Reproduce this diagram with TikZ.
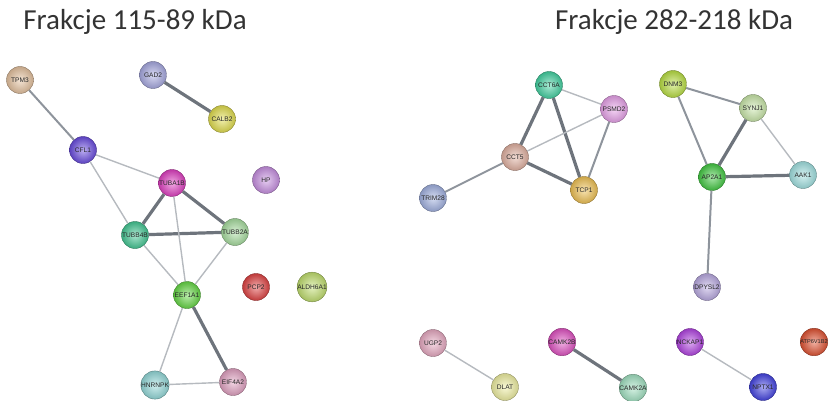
\documentclass[tikz,border=0pt]{standalone}
\usepackage{fontspec}
\setmainfont{Carlito}
\newfontfamily\labelfont{Liberation Sans}
\usepackage{tikz}
\usetikzlibrary{positioning}
\usepackage{xcolor}

\definecolor{cTPM}{HTML}{E6C3A0}
\definecolor{cGAD}{HTML}{A8AAE2}
\definecolor{cCALB}{HTML}{E2DE4E}
\definecolor{cCFL}{HTML}{6A4CE0}
\definecolor{cTUBA}{HTML}{E040C2}
\definecolor{cHP}{HTML}{C890E2}
\definecolor{cTUBBb}{HTML}{44C894}
\definecolor{cTUBBa}{HTML}{A8DEA0}
\definecolor{cEEF}{HTML}{66D846}
\definecolor{cPCP}{HTML}{E04444}
\definecolor{cALDH}{HTML}{C2E070}
\definecolor{cHNR}{HTML}{94DADA}
\definecolor{cEIF}{HTML}{E2A2C2}
\definecolor{cCCTa}{HTML}{44D2A2}
\definecolor{cPSMD}{HTML}{E8A2EA}
\definecolor{cCCTb}{HTML}{E2B2A2}
\definecolor{cTCP}{HTML}{F0C254}
\definecolor{cTRIM}{HTML}{A2B2E2}
\definecolor{cDNM}{HTML}{BAE044}
\definecolor{cSYN}{HTML}{CAE8AA}
\definecolor{cAP}{HTML}{44CA44}
\definecolor{cAAK}{HTML}{A2E2E2}
\definecolor{cDPY}{HTML}{BAAAE2}
\definecolor{cUGP}{HTML}{E8AAC2}
\definecolor{cDLAT}{HTML}{F0F0A2}
\definecolor{cCAMb}{HTML}{E052C2}
\definecolor{cCAMa}{HTML}{A2E2C2}
\definecolor{cNCK}{HTML}{B244E2}
\definecolor{cNPTX}{HTML}{4444E2}
\definecolor{cATP}{HTML}{E05232}
\definecolor{edgedark}{HTML}{6E747C}
\definecolor{edgemid}{HTML}{8E949C}
\definecolor{edgelight}{HTML}{B6BABF}

\begin{document}
\begin{tikzpicture}[x=1pt, y=-1pt,
  prot/.style={circle, minimum size=27pt, inner sep=0pt, shading=radial,
    inner color=#1!45!white, outer color=#1!85!black, draw=#1!60!black, line width=0.4pt,
    font=\labelfont\fontsize{6.6}{6.6}\selectfont, text=black!85},
  strong/.style={draw=edgedark, line width=3.2pt},
  medium/.style={draw=edgemid, line width=2pt},
  weak/.style={draw=edgelight, line width=1.4pt},
  title/.style={font=\fontsize{29}{32}\selectfont, text=black!80}]
\clip (0,0) rectangle (830,401);

\node[title] (lefttitle) at (135,22) {Frakcje 115-89 kDa};
\node[title] (righttitle) at (674,22) {Frakcje 282-218 kDa};

% fraction 115-89 kDa
\node[prot=cTPM] (tpm) at (20,80) {TPM3};
\node[prot=cGAD] (gad) at (153,75) {GAD2};
\node[prot=cCALB] (calb) at (222,119) {CALB2};
\node[prot=cCFL] (cfl) at (83,150) {CFL1};
\node[prot=cTUBA] (tuba) at (172,183) {TUBA1B};
\node[prot=cHP] (hp) at (266,180) {HP};
\node[prot=cTUBBb] (tubbb) at (135,235) {TUBB4B};
\node[prot=cTUBBa] (tubba) at (235,232) {TUBB2A};
\node[prot=cEEF] (eef) at (187,295) {EEF1A1};
\node[prot=cPCP] (pcp) at (256,287) {PCP2};
\node[prot=cALDH] (aldh) at (312,287) {ALDH6A1};
\node[prot=cHNR] (hnr) at (155,385) {HNRNPK};
\node[prot=cEIF] (eif) at (233,382) {EIF4A2};

\draw[medium] (tpm) -- (cfl);
\draw[strong] (gad) -- (calb);
\draw[weak] (cfl) -- (tuba);
\draw[weak] (cfl) -- (tubbb);
\draw[strong] (tuba) -- (tubbb);
\draw[strong] (tuba) -- (tubba);
\draw[strong] (tubbb) -- (tubba);
\draw[weak] (tuba) -- (eef);
\draw[weak] (tubbb) -- (eef);
\draw[weak] (tubba) -- (eef);
\draw[weak] (eef) -- (hnr);
\draw[strong] (eef) -- (eif);
\draw[weak] (hnr) -- (eif);

% fraction 282-218 kDa
\node[prot=cCCTa] (ccta) at (549,85) {CCT6A};
\node[prot=cPSMD] (psmd) at (614,109) {PSMD2};
\node[prot=cCCTb] (cctb) at (515,157) {CCT5};
\node[prot=cTCP] (tcp) at (584,190) {TCP1};
\node[prot=cTRIM] (trim) at (433,198) {TRIM28};
\node[prot=cDNM] (dnm) at (673,84) {DNM3};
\node[prot=cSYN] (syn) at (753,108) {SYNJ1};
\node[prot=cAP] (ap) at (712,177) {AP2A1};
\node[prot=cAAK] (aak) at (803,175) {AAK1};
\node[prot=cDPY] (dpy) at (707,287) {DPYSL2};
\node[prot=cUGP] (ugp) at (433,343) {UGP2};
\node[prot=cDLAT] (dlat) at (505,387) {DLAT};
\node[prot=cCAMb] (camb) at (562,342) {CAMK2B};
\node[prot=cCAMa] (cama) at (633,388) {CAMK2A};
\node[prot=cNCK] (nck) at (690,342) {NCKAP1};
\node[prot=cNPTX] (nptx) at (763,387) {NPTX1};
\node[prot=cATP, font=\labelfont\fontsize{5.6}{5.6}\selectfont] (atp) at (814,342) {ATP6V1B2};

\draw[weak] (ccta) -- (psmd);
\draw[strong] (ccta) -- (cctb);
\draw[strong] (ccta) -- (tcp);
\draw[weak] (cctb) -- (psmd);
\draw[strong] (cctb) -- (tcp);
\draw[medium] (psmd) -- (tcp);
\draw[medium] (cctb) -- (trim);
\draw[medium] (dnm) -- (syn);
\draw[medium] (dnm) -- (ap);
\draw[strong] (syn) -- (ap);
\draw[weak] (syn) -- (aak);
\draw[strong] (ap) -- (aak);
\draw[medium] (ap) -- (dpy);
\draw[weak] (ugp) -- (dlat);
\draw[strong] (camb) -- (cama);
\draw[weak] (nck) -- (nptx);
\end{tikzpicture}
\end{document}
